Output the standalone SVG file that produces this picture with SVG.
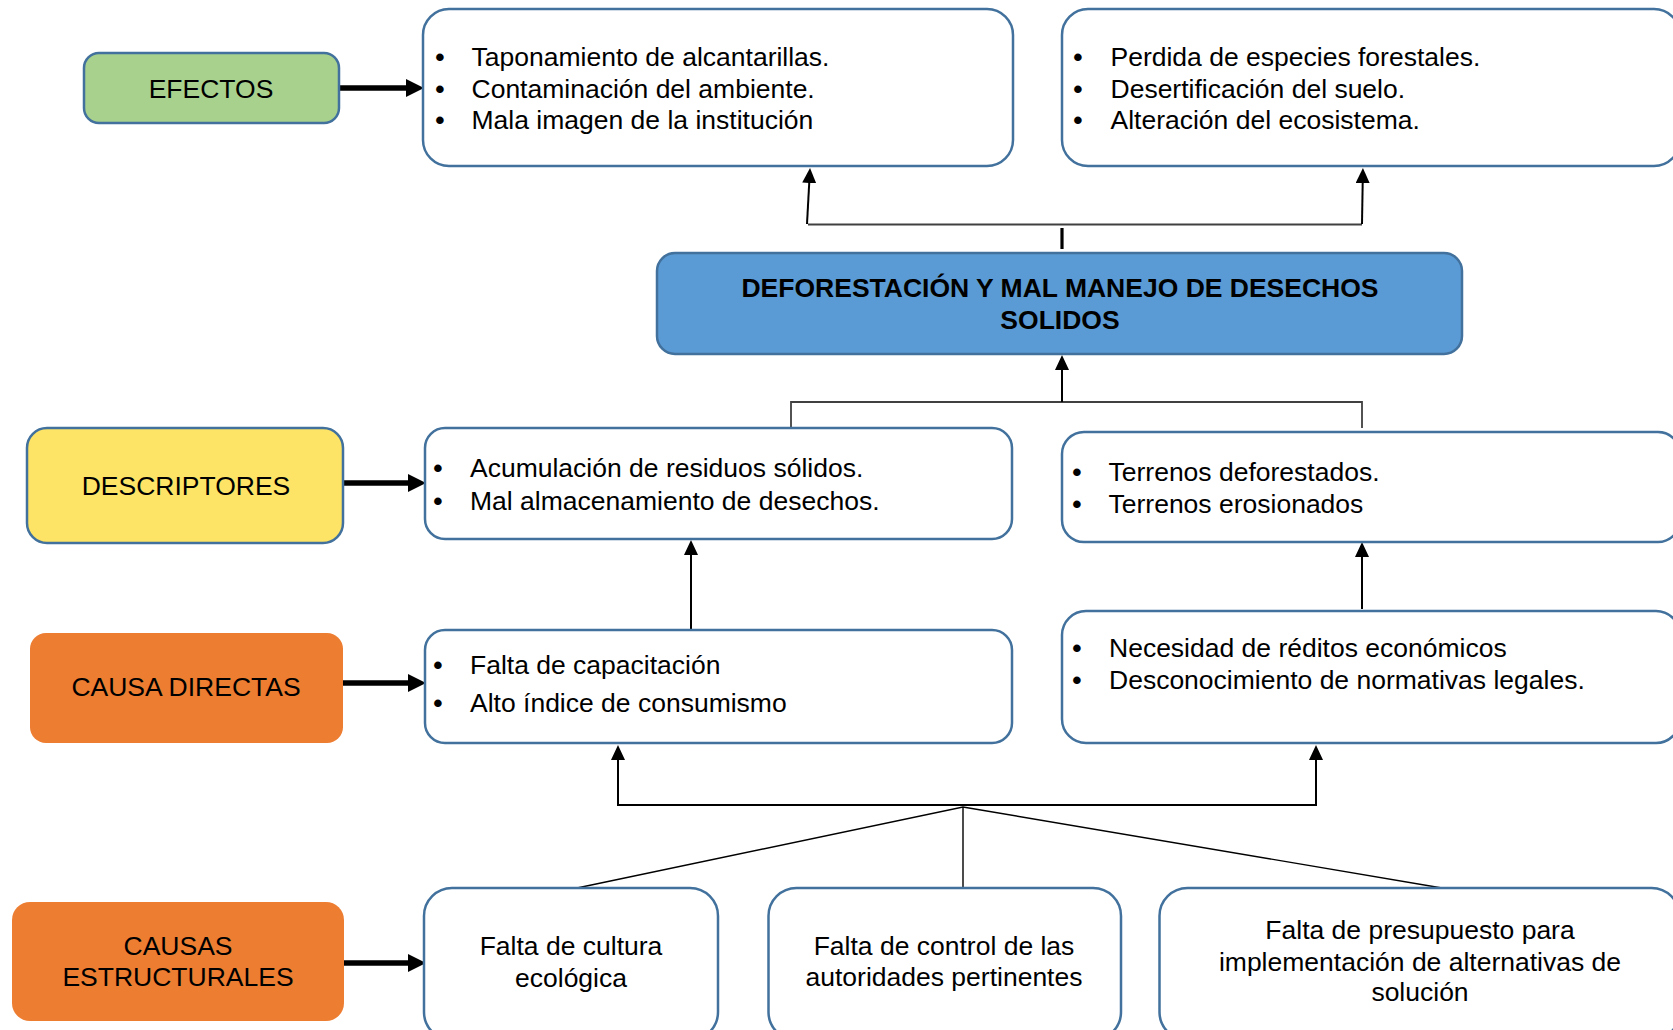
<svg xmlns="http://www.w3.org/2000/svg" width="1673" height="1030" viewBox="0 0 1673 1030">
<style>
.t{font-family:"Liberation Sans",Arial,sans-serif;font-size:26.5px;fill:#000}
.u{font-family:"Liberation Sans",Arial,sans-serif;font-size:26.5px;font-weight:bold;fill:#000;text-anchor:middle}
.c{text-anchor:middle}
.b{font-weight:bold}
.box{fill:#fff;stroke:#41719c;stroke-width:2.5}
.thick{stroke:#000;stroke-width:5.5;fill:none}
.thin{stroke:#000;stroke-width:2;fill:none}
.gray{stroke:#404040;stroke-width:1.8;fill:none}
</style>
<defs>
<marker id="ah" markerUnits="userSpaceOnUse" markerWidth="18" markerHeight="18" viewBox="0 0 18 18" refX="8" refY="9" orient="auto"><path d="M0,0 L18,9 L0,18 z" fill="#000"/></marker>
<marker id="as" markerUnits="userSpaceOnUse" markerWidth="15" markerHeight="14" viewBox="0 0 15 14" refX="7" refY="7" orient="auto"><path d="M0,0 L15,7 L0,14 z" fill="#000"/></marker>
</defs>
<rect width="1673" height="1030" fill="#fff"/>

<g id="connectors">
<line class="thick" x1="339" y1="88" x2="414" y2="88" marker-end="url(#ah)"/>
<line class="thick" x1="343" y1="483" x2="416" y2="483" marker-end="url(#ah)"/>
<line class="thick" x1="343" y1="683" x2="416" y2="683" marker-end="url(#ah)"/>
<line class="thick" x1="344" y1="963" x2="416" y2="963" marker-end="url(#ah)"/>
<path class="gray" d="M808,224.5 H1362"/>
<line class="thin" x1="807" y1="224" x2="809.6" y2="176" marker-end="url(#as)"/>
<line class="thin" x1="1362" y1="224" x2="1362.8" y2="176" marker-end="url(#as)"/>
<line stroke="#000" stroke-width="3.2" x1="1062" y1="228" x2="1062" y2="249"/>
<path class="gray" d="M791,428 V402 H1362 V428"/>
<line class="thin" x1="1062" y1="402" x2="1062" y2="363" marker-end="url(#as)"/>
<line class="thin" x1="691" y1="630" x2="691" y2="548" marker-end="url(#as)"/>
<line class="thin" x1="1362" y1="609" x2="1362" y2="550" marker-end="url(#as)"/>
<path class="thin" d="M618,805 H1316"/>
<line class="thin" x1="618" y1="806" x2="618" y2="753" marker-end="url(#as)"/>
<line class="thin" x1="1316" y1="806" x2="1316" y2="753" marker-end="url(#as)"/>
<path stroke="#000" stroke-width="1.4" fill="none" d="M577,888 L963,807 L1442,888 M963,807 V888"/>
</g>

<g id="efectos">
<rect x="84" y="53" width="255" height="70" rx="15" fill="#a9d18e" stroke="#41719c" stroke-width="2.5"/>
<text class="t c" x="211" y="98">EFECTOS</text>
</g>

<g id="efecto1">
<rect class="box" x="423" y="9" width="590" height="157" rx="26"/>
<text class="u" x="440" y="66">•</text><text class="t" x="471.5" y="66">Taponamiento de alcantarillas.</text>
<text class="u" x="440" y="97.5">•</text><text class="t" x="471.5" y="97.5">Contaminación del ambiente.</text>
<text class="u" x="440" y="129">•</text><text class="t" x="471.5" y="129">Mala imagen de la institución</text>
</g>

<g id="efecto2">
<rect class="box" x="1062" y="9" width="618" height="157" rx="26"/>
<text class="u" x="1078" y="66">•</text><text class="t" x="1110.5" y="66">Perdida de especies forestales.</text>
<text class="u" x="1078" y="97.5">•</text><text class="t" x="1110.5" y="97.5">Desertificación del suelo.</text>
<text class="u" x="1078" y="129">•</text><text class="t" x="1110.5" y="129">Alteración del ecosistema.</text>
</g>

<g id="problema">
<rect x="657" y="253" width="805" height="101" rx="18" fill="#5b9bd5" stroke="#41719c" stroke-width="2.5"/>
<text class="t c b" x="1060" y="297">DEFORESTACIÓN Y MAL MANEJO DE DESECHOS</text>
<text class="t c b" x="1060" y="329">SOLIDOS</text>
</g>

<g id="descriptores">
<rect x="27" y="428" width="316" height="115" rx="20" fill="#fde466" stroke="#41719c" stroke-width="2.5"/>
<text class="t c" x="186" y="495">DESCRIPTORES</text>
</g>

<g id="descriptor1">
<rect class="box" x="425" y="428" width="587" height="111" rx="20"/>
<text class="u" x="438" y="477">•</text><text class="t" x="470" y="477">Acumulación de residuos sólidos.</text>
<text class="u" x="438" y="510">•</text><text class="t" x="470" y="510">Mal almacenamiento de desechos.</text>
</g>

<g id="descriptor2">
<rect class="box" x="1062" y="432" width="618" height="110" rx="22"/>
<text class="u" x="1077" y="481">•</text><text class="t" x="1108.5" y="481">Terrenos deforestados.</text>
<text class="u" x="1077" y="513">•</text><text class="t" x="1108.5" y="513">Terrenos erosionados</text>
</g>

<g id="causa-directas">
<rect x="30" y="633" width="313" height="110" rx="16" fill="#ed7d31"/>
<text class="t c" x="186" y="696">CAUSA DIRECTAS</text>
</g>

<g id="causa1">
<rect class="box" x="425" y="630" width="587" height="113" rx="20"/>
<text class="u" x="438" y="674">•</text><text class="t" x="470" y="674">Falta de capacitación</text>
<text class="u" x="438" y="711.5">•</text><text class="t" x="470" y="711.5">Alto índice de consumismo</text>
</g>

<g id="causa2">
<rect class="box" x="1062" y="611" width="618" height="132" rx="24"/>
<text class="u" x="1077" y="657">•</text><text class="t" x="1109" y="657">Necesidad de réditos económicos</text>
<text class="u" x="1077" y="689">•</text><text class="t" x="1109" y="689">Desconocimiento de normativas legales.</text>
</g>

<g id="causas-estructurales">
<rect x="12" y="902" width="332" height="119" rx="18" fill="#ed7d31"/>
<text class="t c" x="178" y="955">CAUSAS</text>
<text class="t c" x="178" y="986">ESTRUCTURALES</text>
</g>

<g id="estructural1">
<rect class="box" x="424" y="888" width="294" height="152" rx="28"/>
<text class="t c" x="571" y="955">Falta de cultura</text>
<text class="t c" x="571" y="986.5">ecológica</text>
</g>

<g id="estructural2">
<rect class="box" x="768.5" y="888" width="352.5" height="152" rx="28"/>
<text class="t c" x="944" y="955">Falta de control de las</text>
<text class="t c" x="944" y="986">autoridades pertinentes</text>
</g>

<g id="estructural3">
<rect class="box" x="1159.5" y="888" width="520" height="152" rx="28"/>
<text class="t c" x="1420" y="939">Falta de presupuesto para</text>
<text class="t c" x="1420" y="970.5">implementación de alternativas de</text>
<text class="t c" x="1420" y="1001">solución</text>
</g>
</svg>
